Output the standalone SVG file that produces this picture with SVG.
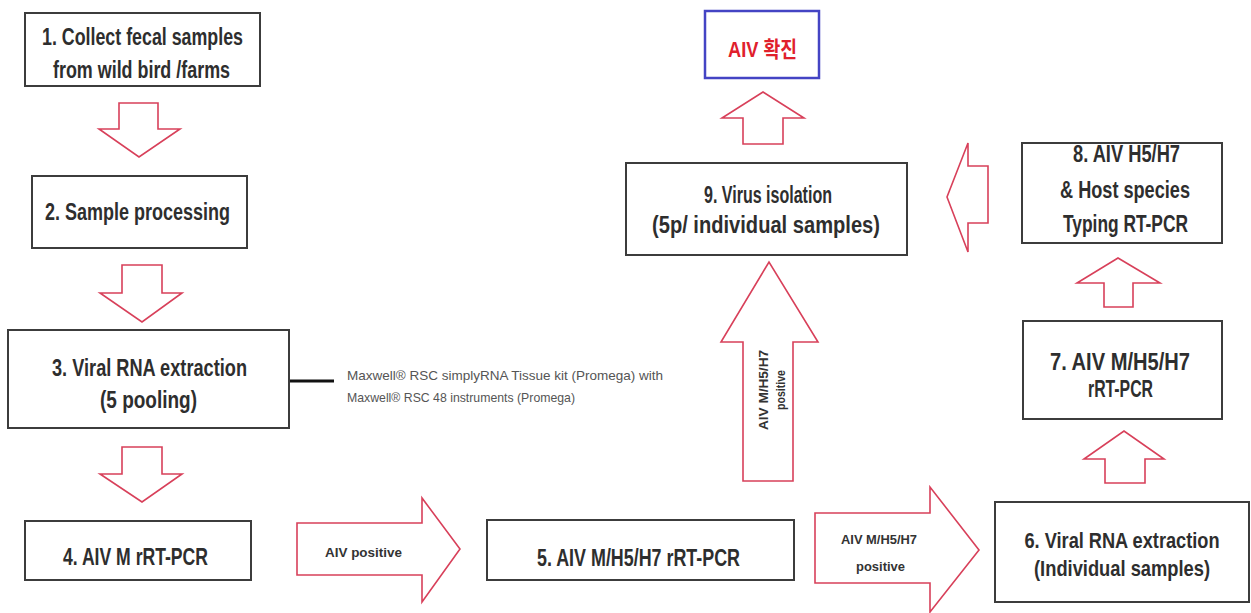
<svg xmlns="http://www.w3.org/2000/svg" width="1251" height="613" viewBox="0 0 1251 613">
  <style>
    .box { fill: #ffffff; stroke: #3c3c3c; stroke-width: 2; }
    .goal { fill: #ffffff; stroke: #4444c4; stroke-width: 2.5; }
    .arr { fill: #ffffff; stroke: #d8405a; stroke-width: 1.6; stroke-linejoin: miter; }
    .t { font-family: "Liberation Sans", Arial, sans-serif; font-weight: bold; font-size: 23px; fill: #2e2e2e; }
    .t-tall { font-family: "Liberation Sans", Arial, sans-serif; font-weight: bold; font-size: 19px; fill: #2e2e2e; }
    .lbl { font-family: "Liberation Sans", Arial, sans-serif; font-weight: bold; font-size: 13px; fill: #333333; }
    .note { font-family: "Liberation Sans", Arial, sans-serif; font-size: 13px; fill: #555555; }
    .goal-t { font-family: "Liberation Sans", "Noto Sans CJK KR", sans-serif; font-weight: bold; font-size: 22px; fill: #e0202c; }
  </style>
  <rect width="1251" height="613" fill="#ffffff"/>

  <!-- connectors: block arrows and the note leader -->
  <g id="connectors">
    <path class="arr" d="M119,103 H158 V129 H180 L139,157 L99,129 H119 Z"/>
    <path class="arr" d="M122,265 H162 V293 H182 L142,322 L100,293 H122 Z"/>
    <path class="arr" d="M122,447 H162 V474 H182 L142,502 L100,474 H122 Z"/>
    <g id="arrow-4-5">
      <path class="arr" d="M297,523 H422 V498 L460,549 L422,602 V575 H297 Z"/>
      <text class="lbl" x="325" y="557" textLength="77" lengthAdjust="spacingAndGlyphs">AIV positive</text>
    </g>
    <g id="arrow-5-6">
      <path class="arr" d="M815,513 H930 V487 L979,550 L930,612 V583 H815 Z"/>
      <text class="lbl" x="841" y="544" textLength="76" lengthAdjust="spacingAndGlyphs">AIV M/H5/H7</text>
      <text class="lbl" x="856" y="571" textLength="49" lengthAdjust="spacingAndGlyphs">positive</text>
    </g>
    <path class="arr" d="M1105,483 V459 H1084 L1124,431 L1164,459 H1145 V483 Z"/>
    <path class="arr" d="M1104,307 V283 H1077 L1118,258 L1160,283 H1133 V307 Z"/>
    <path class="arr" d="M988,166 H968 V143 L947,197 L968,252 V223 H988 Z"/>
    <g id="arrow-5-9">
      <path class="arr" d="M743,481 V342 H721 L769,262 L818,342 H793 V481 Z"/>
      <g transform="translate(763,390) rotate(-90)">
        <text class="lbl" x="0" y="5" text-anchor="middle" textLength="80" lengthAdjust="spacingAndGlyphs">AIV M/H5/H7</text>
        <text class="lbl" x="0" y="22" text-anchor="middle" textLength="40" lengthAdjust="spacingAndGlyphs">positive</text>
      </g>
    </g>
    <path class="arr" d="M743,144 V118 H722 L763,92 L804,118 H783 V144 Z"/>
    <line x1="290" y1="381" x2="334" y2="381" stroke="#111111" stroke-width="3"/>
  </g>

  <g id="step1">
    <rect class="box" x="25" y="13" width="235" height="73"/>
    <text class="t" x="42" y="45" textLength="201" lengthAdjust="spacingAndGlyphs">1. Collect fecal samples</text>
    <text class="t" x="53" y="78" textLength="177" lengthAdjust="spacingAndGlyphs">from wild bird /farms</text>
  </g>

  <g id="step2">
    <rect class="box" x="32" y="176" width="215" height="72"/>
    <text class="t" x="45" y="220" textLength="185" lengthAdjust="spacingAndGlyphs">2. Sample processing</text>
  </g>

  <g id="step3">
    <rect class="box" x="8" y="330" width="281" height="98"/>
    <text class="t" x="52" y="376" textLength="195" lengthAdjust="spacingAndGlyphs">3. Viral RNA extraction</text>
    <text class="t" x="100" y="408" textLength="97" lengthAdjust="spacingAndGlyphs">(5 pooling)</text>
  </g>

  <g id="note">
    <text class="note" x="347" y="380" textLength="316" lengthAdjust="spacingAndGlyphs">Maxwell® RSC simplyRNA Tissue kit (Promega) with</text>
    <text class="note" x="347" y="402" textLength="228" lengthAdjust="spacingAndGlyphs">Maxwell® RSC 48 instruments (Promega)</text>
  </g>

  <g id="step4">
    <rect class="box" x="25" y="521" width="226" height="59"/>
    <text class="t" x="63" y="565" textLength="145" lengthAdjust="spacingAndGlyphs">4. AIV M rRT-PCR</text>
  </g>

  <g id="step5">
    <rect class="box" x="487" y="520" width="307" height="60"/>
    <text class="t" x="537" y="566" textLength="203" lengthAdjust="spacingAndGlyphs">5. AIV M/H5/H7 rRT-PCR</text>
  </g>

  <g id="step6">
    <rect class="box" x="995" y="502" width="254" height="100"/>
    <!-- narrower face, stretched vertically to keep the tall condensed look -->
    <text class="t-tall" transform="translate(1122,548) scale(1,1.2)" x="0" y="0" text-anchor="middle" textLength="195" lengthAdjust="spacingAndGlyphs">6. Viral RNA extraction</text>
    <text class="t-tall" transform="translate(1122,576) scale(1,1.2)" x="0" y="0" text-anchor="middle" textLength="176" lengthAdjust="spacingAndGlyphs">(Individual samples)</text>
  </g>

  <g id="step7">
    <rect class="box" x="1023" y="321" width="199" height="98"/>
    <text class="t" x="1050" y="370" textLength="140" lengthAdjust="spacingAndGlyphs">7. AIV M/H5/H7</text>
    <text class="t" x="1088" y="397" textLength="65" lengthAdjust="spacingAndGlyphs">rRT-PCR</text>
  </g>

  <g id="step8">
    <rect class="box" x="1022" y="143" width="200" height="100"/>
    <text class="t" x="1073" y="162" textLength="107" lengthAdjust="spacingAndGlyphs">8. AIV H5/H7</text>
    <text class="t" x="1060" y="198" textLength="130" lengthAdjust="spacingAndGlyphs">&amp; Host species</text>
    <text class="t" x="1063" y="232" textLength="125" lengthAdjust="spacingAndGlyphs">Typing RT-PCR</text>
  </g>

  <g id="step9">
    <rect class="box" x="626" y="163" width="281" height="92"/>
    <text class="t" x="704" y="203" textLength="128" lengthAdjust="spacingAndGlyphs">9. Virus isolation</text>
    <text class="t" x="652" y="233" textLength="228" lengthAdjust="spacingAndGlyphs">(5p/ individual samples)</text>
  </g>

  <g id="confirmed">
    <rect class="goal" x="705" y="11" width="114" height="67"/>
    <text class="goal-t" x="728" y="57" textLength="69" lengthAdjust="spacingAndGlyphs">AIV 확진</text>
  </g>
</svg>
